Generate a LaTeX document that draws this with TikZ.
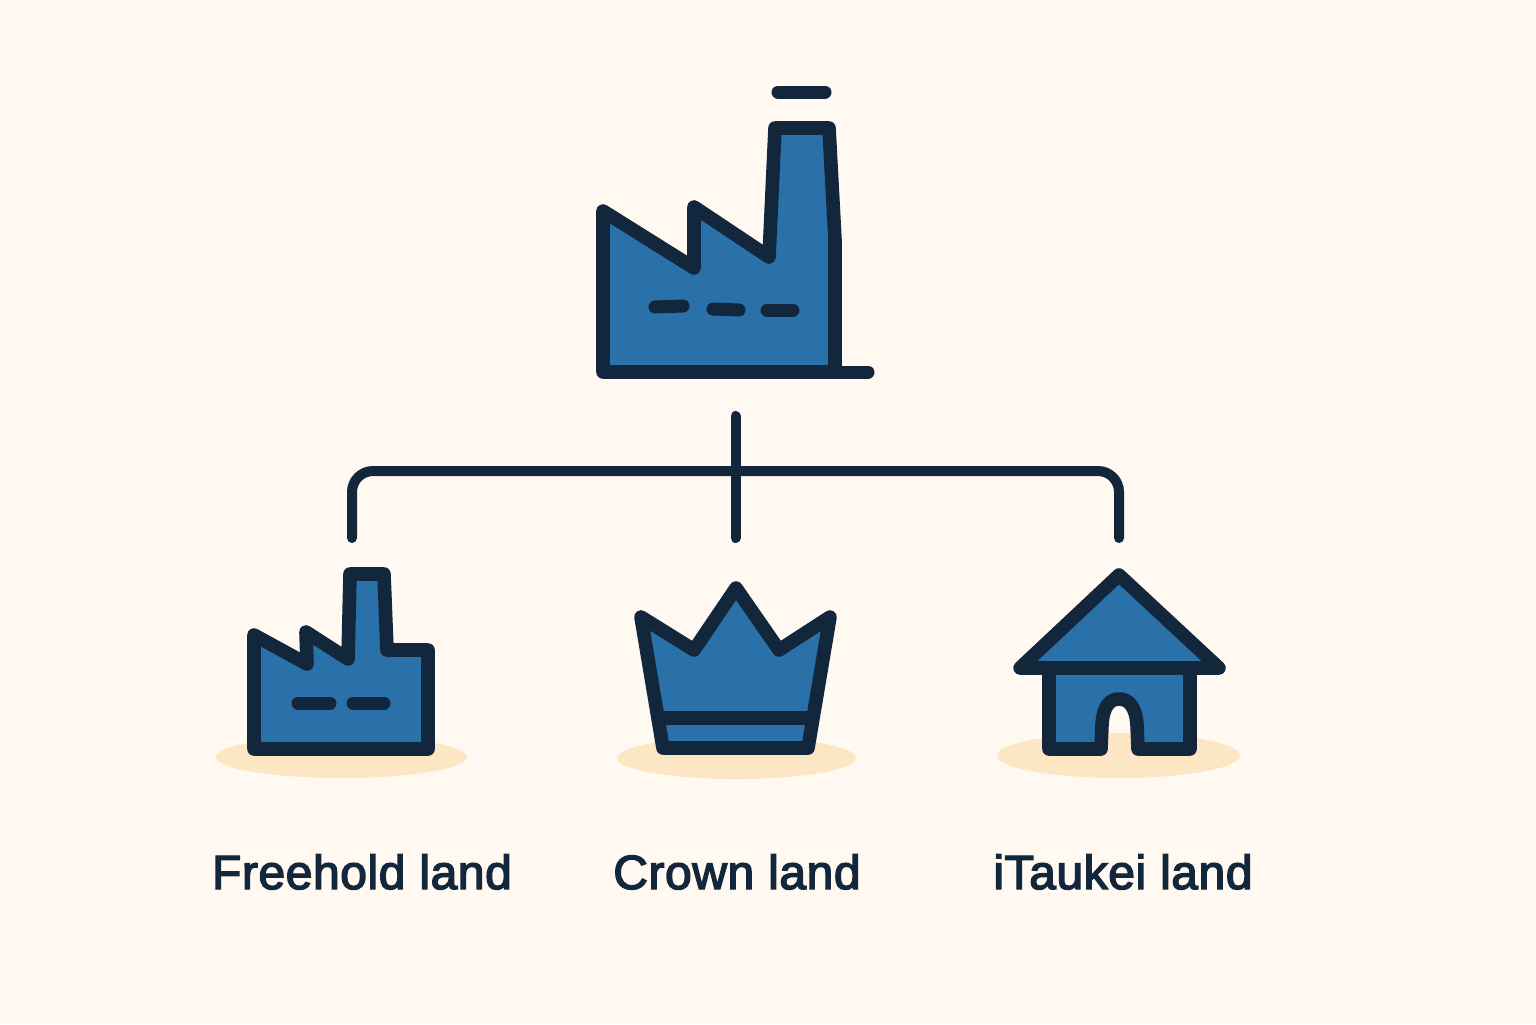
\documentclass[tikz,border=0pt]{standalone}
\usepackage{fontspec}
\newfontfamily\labelfont{Liberation Sans}[FakeBold=3,LetterSpace=1.2]
\usepackage{tikz}
\definecolor{paper}{HTML}{FFF9F2}
\definecolor{navy}{HTML}{12263C}
\definecolor{landblue}{HTML}{2971A8}
\definecolor{sand}{HTML}{FDE6C4}
\tikzset{
  icon/.style={draw=navy,fill=landblue,line width=6.8pt,line join=round,line cap=round},
  slit/.style={draw=navy,line width=6.5pt,line cap=round},
  shadow/.style={fill=sand,draw=none},
  link/.style={draw=navy,line width=5pt,line cap=round},
  landlabel/.style={anchor=base,text=navy,font=\labelfont\fontsize{24}{28}\selectfont}
}

\begin{document}
\begin{tikzpicture}[x=0.5pt,y=-0.5pt]
  \fill[paper] (0,0) rectangle (1536,1024);
  \useasboundingbox (0,0) rectangle (1536,1024);
  % top factory
  \draw[slit] (778,92) -- (825,92);
  \path[icon] (603,372) -- (603,211) -- (694,268) -- (694,207) -- (769,257)
    -- (775,128) -- (829,128) -- (835,240) -- (835,372) -- cycle;
  \draw[slit] (835,372) -- (868,372);
  \draw[slit] (655,307) -- (683,306);
  \draw[slit] (713,309) -- (739,310);
  \draw[slit] (767,310) -- (793,310);
  % connectors
  \coordinate (root) at (735.5,416);
  \coordinate (joint) at (735.5,471);
  \coordinate (freehold) at (352,538);
  \coordinate (crown) at (735.5,538);
  \coordinate (itaukei) at (1119,538);
  \draw[link] (root) -- (crown);
  \draw[link,rounded corners=10.5pt] (freehold) |- (joint) -| (itaukei);
  % ground shadows
  \fill[shadow] (341.5,757) ellipse [x radius=125.5,y radius=21];
  \fill[shadow] (736.5,758) ellipse [x radius=119.5,y radius=21];
  \fill[shadow] (1118.5,755.5) ellipse [x radius=121.5,y radius=22.5];
  % small factory
  \path[icon] (254,749) -- (254,635) -- (307,664) -- (306,632) -- (348,659)
    -- (350,574) -- (384,574) -- (387,650) -- (428,650) -- (428,749) -- cycle;
  \draw[slit] (298,703) -- (330,703);
  \draw[slit] (353,703) -- (384,703);
  % crown
  \path[icon] (663,748) -- (641,617) -- (694,650) -- (736,588) -- (779,650)
    -- (830,617) -- (808,748) -- cycle;
  \draw[icon,line cap=butt] (659,718) -- (812,718);
  % house
  \path[icon] (1049,668) -- (1049,749) -- (1101,749) -- (1102,725)
    .. controls (1103,706) and (1110,699) .. (1119,699)
    .. controls (1128,699) and (1136,706) .. (1137,725)
    -- (1138,749) -- (1190,749) -- (1190,668) -- cycle;
  \path[icon] (1020,668) -- (1119,575) -- (1219,668) -- cycle;
  % labels
  \node[landlabel] (freeholdlabel) at (362,889) {Freehold land};
  \node[landlabel] (crownlabel) at (737,889) {Crown land};
  \node[landlabel] (itaukeilabel) at (1123,889) {iTaukei land};
\end{tikzpicture}
\end{document}
